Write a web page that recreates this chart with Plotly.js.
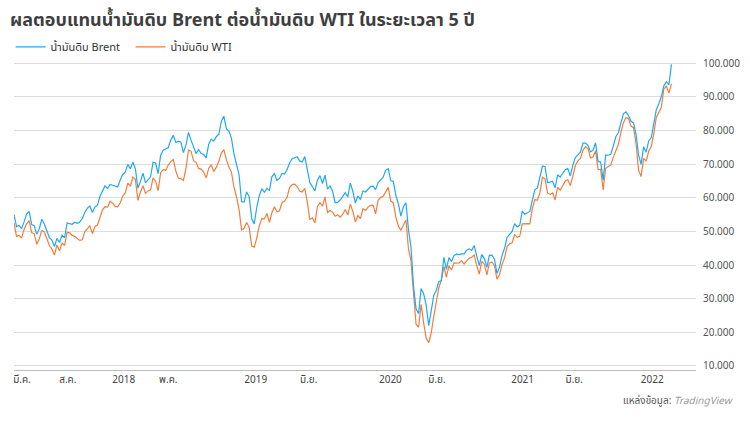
<!DOCTYPE html>
<html>
<head>
<meta charset="utf-8">
<script src="https://cdn.plot.ly/plotly-3.0.1.min.js"></script>
<style>
  html, body { margin: 0; padding: 0; background: #ffffff; }
  #chart { width: 750px; height: 422px; }
</style>
</head>
<body>
<div id="chart"></div>
<script>
// Weekly closes (Friday), first week ending 2017-03-03, last 2022-02-25
const firstWeek = '2017-03-03';

const brent2017 = [55.0, 51.4, 51.8, 50.8, 52.8, 55.2, 55.9, 52.0, 51.7, 49.1, 50.8, 53.6, 52.2,
  49.95, 48.15, 47.4, 45.5, 47.9, 46.7, 48.9, 48.1, 52.5, 52.4, 52.1, 52.7, 52.4,
  52.75, 53.8, 55.6, 56.9, 57.5, 55.6, 57.2, 57.75, 60.4, 62.1, 63.5, 62.7, 63.9,
  63.7, 63.4, 63.2, 65.25, 66.9];
const brent2018 = [67.6, 69.9, 68.6, 70.5, 68.6, 62.8, 64.8, 67.3, 64.4, 65.5, 66.2, 70.5, 70.3,
  67.1, 72.6, 74.1, 74.6, 74.9, 77.1, 78.5, 76.4, 76.8, 76.5, 73.4, 75.6, 79.4,
  77.1, 75.3, 73.1, 74.3, 73.2, 72.8, 71.8, 75.8, 77.4, 76.8, 78.1, 78.8, 82.7,
  84.2, 80.4, 79.8, 77.6, 73.0, 70.2, 66.8, 58.8, 58.7, 61.7, 60.3, 53.8, 52.2];
const brent2019 = [57.1, 60.5, 62.7, 61.6, 62.75, 62.1, 66.25, 67.1, 65.1, 65.7, 67.2, 67.0, 68.4,
  70.3, 71.55, 71.97, 72.15, 70.85, 70.6, 72.2, 68.7, 64.5, 63.3, 62.0, 65.2, 66.55,
  64.2, 66.7, 62.5, 63.5, 61.9, 58.5, 58.6, 59.3, 60.4, 61.5, 60.2, 64.3, 61.9,
  58.4, 60.5, 59.4, 62.0, 61.7, 62.5, 63.3, 63.4, 62.4, 64.4, 65.2, 66.1, 68.2];
const brent2020 = [68.6, 65.0, 64.85, 60.7, 58.2, 54.5, 57.3, 58.5, 50.5, 45.3, 33.85, 26.98, 25.5,
  33.0, 31.5, 28.1, 22.0, 26.4, 30.97, 32.5, 35.1, 35.3, 42.3, 38.7, 42.2, 41.0,
  42.8, 43.2, 43.1, 43.3, 43.3, 44.4, 44.8, 44.35, 45.8, 42.7, 39.8, 43.15, 41.9,
  39.3, 42.85, 42.9, 41.8, 37.5, 39.45, 42.8, 44.96, 48.2, 49.25, 50.0, 52.3, 51.3, 51.8];
const brent2021 = [55.99, 55.1, 55.4, 55.9, 59.3, 62.4, 62.9, 66.1, 69.4, 69.2, 64.5, 64.6,
  64.9, 62.95, 66.8, 66.1, 67.25, 68.3, 68.7, 66.4, 69.6, 71.9, 72.7, 73.5, 76.2,
  76.2, 75.55, 73.6, 74.1, 76.3, 70.7, 70.6, 65.2, 72.7, 72.6, 72.9, 75.3, 78.1,
  79.3, 82.4, 84.9, 85.5, 84.4, 82.7, 82.2, 78.9, 72.7, 69.9, 75.15, 73.5, 76.85, 77.8];
const brent2022 = [81.75, 86.06, 87.89, 90.03, 93.27, 94.44, 93.54, 99.6];

const wti2017 = [52.5, 48.5, 48.8, 47.97, 50.6, 52.2, 53.2, 49.6, 49.3, 46.2, 47.8, 50.3, 49.8,
  47.7, 45.8, 44.7, 43.0, 46.0, 44.2, 46.5, 45.8, 49.7, 49.6, 48.8, 48.5, 47.9,
  47.3, 47.5, 49.9, 50.7, 51.7, 49.3, 51.45, 51.8, 54.5, 56.4, 57.3, 57.2, 58.95,
  58.4, 57.4, 57.3, 58.5, 60.4];
const wti2018 = [61.4, 64.3, 63.4, 66.1, 65.45, 59.2, 61.7, 63.55, 61.25, 62.0, 62.3, 65.9, 64.9,
  62.1, 67.4, 68.4, 68.1, 69.7, 70.7, 71.3, 67.9, 65.8, 65.7, 65.1, 68.6, 74.15,
  73.8, 71.0, 70.5, 68.7, 68.5, 67.6, 65.9, 68.7, 69.8, 67.75, 68.99, 70.8, 73.25,
  74.3, 71.3, 69.1, 67.6, 63.1, 60.2, 56.5, 50.4, 50.9, 52.6, 51.2, 45.6, 45.3];
const wti2019 = [47.96, 51.6, 53.8, 53.7, 55.3, 52.7, 55.6, 57.3, 55.8, 56.1, 58.5, 59.0, 60.1,
  63.1, 63.9, 64.0, 63.3, 61.9, 61.7, 62.8, 58.6, 53.5, 54.0, 52.5, 57.4, 58.5,
  57.5, 60.2, 55.6, 56.2, 55.7, 54.5, 54.9, 54.2, 55.1, 56.5, 54.85, 58.1, 55.9,
  52.8, 54.7, 53.8, 56.7, 56.2, 57.2, 57.7, 57.8, 55.2, 59.2, 60.1, 60.4, 61.7];
const wti2020 = [63.05, 59.0, 58.5, 54.2, 51.6, 50.3, 52.05, 53.4, 44.8, 41.3, 31.7, 22.4, 21.5,
  28.3, 22.8, 18.3, 16.9, 19.8, 24.7, 29.4, 33.25, 35.5, 39.55, 36.3, 39.75, 38.5,
  40.65, 40.55, 40.6, 41.3, 40.3, 41.2, 42.0, 42.3, 43.0, 39.8, 37.3, 41.1, 40.25,
  37.05, 40.6, 40.9, 39.85, 35.8, 37.1, 40.1, 42.15, 45.5, 46.3, 46.6, 49.1, 48.2, 48.5];
const wti2021 = [52.24, 52.36, 52.27, 52.2, 56.85, 59.47, 59.24, 61.5, 66.09, 65.61, 61.42, 60.97,
  61.45, 59.32, 63.13, 62.14, 63.58, 64.9, 65.37, 63.58, 66.32, 69.62, 70.91, 71.64, 74.05,
  75.16, 74.56, 71.81, 72.07, 73.95, 68.28, 68.44, 62.32, 68.74, 69.29, 69.72, 71.97, 73.98,
  75.88, 79.35, 82.28, 83.76, 83.57, 81.27, 80.79, 76.1, 68.15, 66.26, 71.67, 70.86, 73.79, 75.21];
const wti2022 = [78.9, 83.82, 85.14, 86.82, 92.31, 93.1, 91.07, 93.8];

const tickDates = ['2017-03-25', '2017-07-30', '2018-01-01', '2018-05-04', '2019-01-01',
  '2019-05-28', '2020-01-09', '2020-05-17', '2021-01-09', '2021-06-01', '2022-01-03'];
const tickLabels = ['มี.ค.', 'ส.ค.', '2018', 'พ.ค.', '2019', 'มิ.ย.', '2020', 'มิ.ย.', '2021', 'มิ.ย.', '2022'];
const yTicks = [10, 20, 30, 40, 50, 60, 70, 80, 90, 100];

const seriesNames = ['น้ำมันดิบ Brent', 'น้ำมันดิบ WTI'];
const titleText = 'ผลตอบแทนน้ำมันดิบ Brent ต่อน้ำมันดิบ WTI ในระยะเวลา 5 ปี';
const sourceText = 'แหล่งข้อมูล: <i><span style="color:#9a9a9a">TradingView</span></i>';

const brent = [].concat(brent2017, brent2018, brent2019, brent2020, brent2021, brent2022);
const wti = [].concat(wti2017, wti2018, wti2019, wti2020, wti2021, wti2022);

function weekDates(start, n) {
  const out = [];
  const t0 = Date.parse(start + 'T00:00:00Z');
  for (let i = 0; i < n; i++) {
    out.push(new Date(t0 + i * 7 * 86400000).toISOString().slice(0, 10));
  }
  return out;
}
const dates = weekDates(firstWeek, brent.length);

const FONT = '"Noto Sans Thai", "Noto Sans", Lato, sans-serif';

const traces = [
  {
    x: dates, y: wti, type: 'scatter', mode: 'lines', name: seriesNames[1],
    line: { color: '#f07e3e', width: 1.2 }, hoverinfo: 'skip'
  },
  {
    x: dates, y: brent, type: 'scatter', mode: 'lines', name: seriesNames[0],
    line: { color: '#22a8f2', width: 1.2 }, hoverinfo: 'skip'
  }
];

const layout = {
  width: 750, height: 422,
  margin: { l: 11, r: 54, t: 55, b: 52 },
  paper_bgcolor: '#ffffff', plot_bgcolor: '#ffffff',
  font: { family: FONT, color: '#444444', size: 10 },
  title: {
    text: '<b>' + titleText + '</b>',
    x: 10 / 750, xref: 'container', xanchor: 'left',
    y: 1 - 20 / 422, yref: 'container', yanchor: 'middle',
    font: { family: FONT, size: 18, color: '#3f3f3f' }
  },
  showlegend: true,
  legend: {
    orientation: 'h', traceorder: 'reversed',
    x: -0.005, xanchor: 'left', y: 1.026, yanchor: 'middle',
    font: { family: FONT, size: 11, color: '#333333' },
    itemwidth: 30, entrywidth: 75, entrywidthmode: 'pixels',
    bgcolor: 'rgba(0,0,0,0)'
  },
  xaxis: {
    type: 'date',
    range: ['2017-03-03', '2022-05-04'],
    tickmode: 'array', tickvals: tickDates, ticktext: tickLabels,
    showgrid: false, zeroline: false,
    showline: true, linecolor: '#bdbdbd', linewidth: 1,
    ticks: '', tickfont: { family: FONT, size: 10, color: '#444444' }
  },
  yaxis: {
    side: 'right',
    range: [8.81, 102.38],
    tickmode: 'array', tickvals: yTicks,
    tickformat: '.3f',
    showgrid: true, gridcolor: '#dcdcdc', gridwidth: 1,
    zeroline: false, showline: false, ticks: '',
    ticklabelstandoff: 6,
    tickfont: { family: FONT, size: 10, color: '#555555' }
  },
  annotations: [
    {
      text: sourceText, xref: 'paper', yref: 'paper',
      x: (736 - 11) / 685, xanchor: 'right',
      y: (370 - 401) / 315, yanchor: 'middle',
      showarrow: false, font: { family: FONT, size: 10, color: '#555555' }
    }
  ]
};

Plotly.newPlot('chart', traces, layout, { displayModeBar: false, staticPlot: true });
</script>
</body>
</html>
